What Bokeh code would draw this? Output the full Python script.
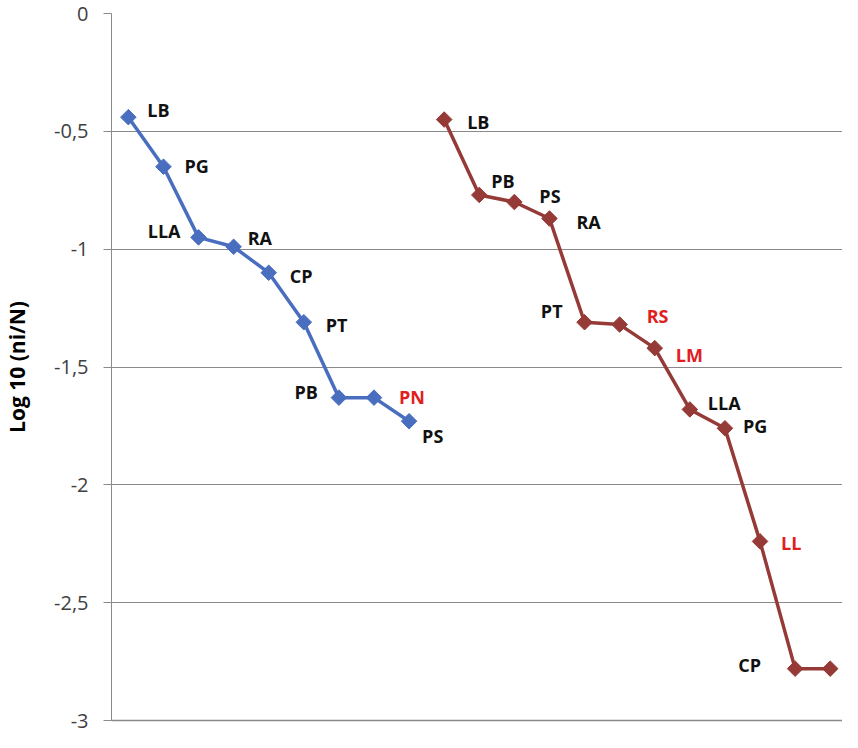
import numpy as np
from bokeh.plotting import figure
from bokeh.models import ColumnDataSource, FixedTicker, Range1d
from bokeh.core.properties import value
from bokeh.embed import file_html
from bokeh.resources import INLINE

# ---- data ----
blue_labels = ["LB", "PG", "LLA", "RA", "CP", "PT", "PB", "PN", "PS"]
blue_values = [-0.44, -0.65, -0.95, -0.99, -1.10, -1.31, -1.63, -1.63, -1.73]
red_labels = ["LB", "PB", "PS", "RA", "PT", "RS", "LM", "LLA", "PG", "LL", "CP", ""]
red_values = [-0.45, -0.77, -0.80, -0.87, -1.31, -1.32, -1.42, -1.68, -1.76, -2.24, -2.78, -2.78]
y_ticks = [0, -0.5, -1, -1.5, -2, -2.5, -3]
y_tick_labels = ["0", "-0,5", "-1", "-1,5", "-2", "-2,5", "-3"]
blue_highlight = ["PN"]
red_highlight = ["RS", "LM", "LL"]

# ---- label placement (screen px offsets, alignment) ----
blue_dx = [19, 21, -18, 14, 21, 22, -21, 25, 13]
blue_dy = [-7, -1, -6, -9, 3, 3, -6, -1, 15]
blue_align = ["left", "left", "right", "left", "left", "left", "right", "left", "left"]
red_dx = [23, 12, 25, 27, -22, 27, 21, 18, 18, 21, -34, 0]
red_dy = [2, -14, -6, 3, -11, -9, 7, -6, -2, 2, -4, 0]
red_align = ["left", "left", "left", "left", "right", "left", "left", "left", "left", "left", "right", "left"]

BLUE = "#4a6ebf"
RED = "#953a37"
HILITE = "#e0201f"
TXT = "#111111"
GRID = "#8a8a8a"

p = figure(width=842, height=732,
           x_range=Range1d(-0.48, 20.35), y_range=Range1d(-3, 0),
           output_backend="svg", toolbar_location=None,
           min_border_left=111, min_border_top=13, min_border_bottom=12, min_border_right=0)
p.outline_line_color = None
p.background_fill_color = "white"
p.border_fill_color = "white"

bx = list(range(len(blue_values)))
rx = [len(blue_values) + i for i in range(len(red_values))]

def add_series(xs, ys, labels, dx, dy, align, highlight, color):
    p.line(xs, ys, line_color=color, line_width=3.5)
    p.scatter(xs, ys, marker="square", angle=np.pi / 4, size=11,
              fill_color=color, line_color=color)
    for al in ("left", "right"):
        idx = [i for i in range(len(xs)) if align[i] == al and labels[i]]
        src = ColumnDataSource(dict(
            x=[xs[i] for i in idx], y=[ys[i] for i in idx],
            t=[labels[i] for i in idx],
            dx=[dx[i] for i in idx], dy=[dy[i] for i in idx],
            c=[HILITE if labels[i] in highlight else TXT for i in idx]))
        p.text(x="x", y="y", text="t", source=src, x_offset="dx", y_offset="dy",
               text_align=al, text_baseline="middle", text_color="c",
               text_font=value("Open Sans"), text_font_style="bold",
               text_font_size="18px")

add_series(bx, blue_values, blue_labels, blue_dx, blue_dy, blue_align, blue_highlight, BLUE)
add_series(rx, red_values, red_labels, red_dx, red_dy, red_align, red_highlight, RED)

# axes
p.yaxis.ticker = FixedTicker(ticks=y_ticks)
p.yaxis.major_label_overrides = {t: l for t, l in zip(y_ticks, y_tick_labels)}
p.yaxis.axis_line_color = GRID
p.yaxis.major_tick_line_color = GRID
p.yaxis.major_tick_out = 8
p.yaxis.major_tick_in = 0
p.yaxis.minor_tick_line_color = None
p.yaxis.major_label_standoff = 15
p.yaxis.major_label_text_font = "Open Sans"
p.yaxis.major_label_text_font_size = "20px"
p.yaxis.major_label_text_color = "#404040"
p.yaxis.axis_label = "Log 10 (ni/N)"
p.yaxis.axis_label_text_font = "Open Sans"
p.yaxis.axis_label_text_font_style = "bold"
p.yaxis.axis_label_text_font_size = "21px"
p.yaxis.axis_label_text_color = "#000000"
p.yaxis.axis_label_standoff = 20

p.xaxis.ticker = FixedTicker(ticks=[])
p.xaxis.axis_line_color = GRID
p.xaxis.axis_line_width = 1.5
p.xaxis.major_tick_line_color = None
p.xaxis.minor_tick_line_color = None
p.xaxis.major_label_text_font_size = "0px"

p.xgrid.visible = False
p.ygrid.grid_line_color = GRID
p.ygrid.grid_line_width = 1

open("out.html", "w").write(file_html(p, INLINE))
